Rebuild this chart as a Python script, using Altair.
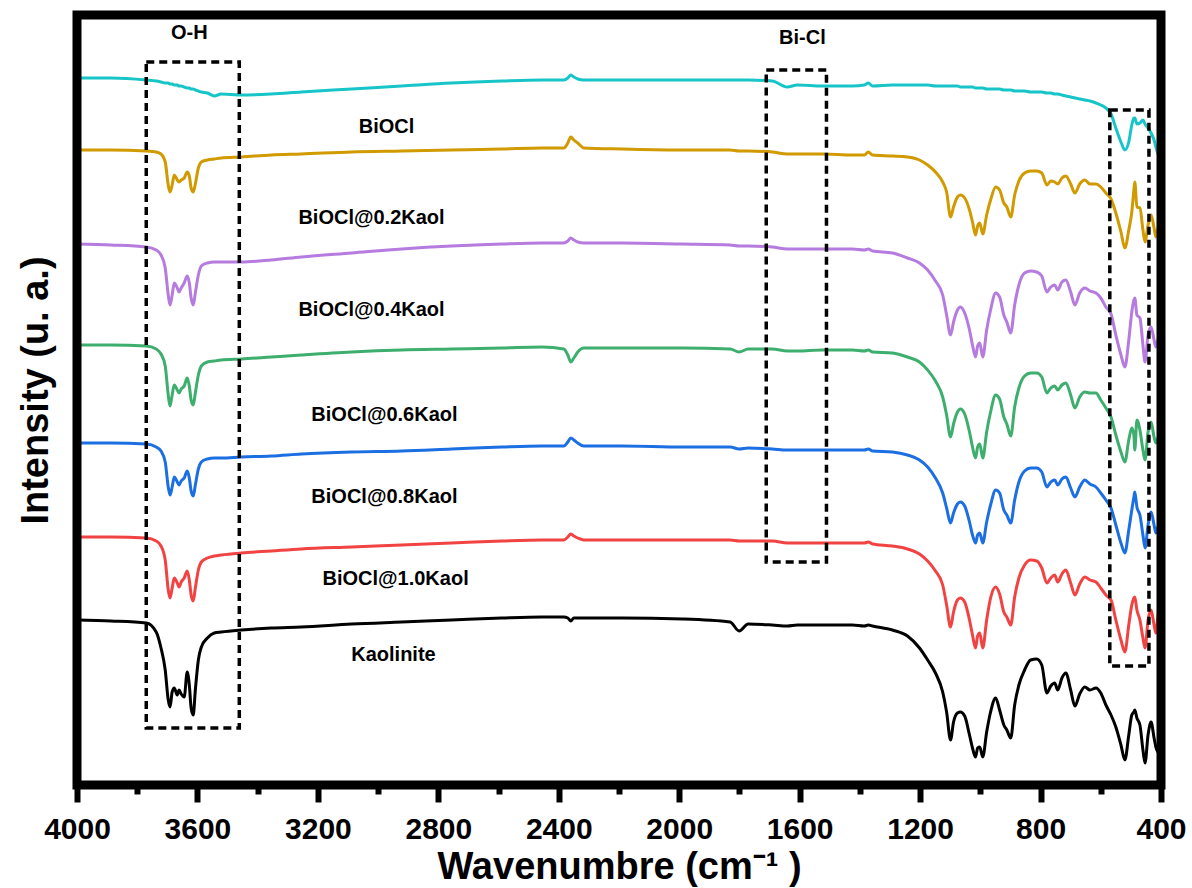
import altair as alt
import pandas as pd

# Wavenumber grid (cm^-1) shared by all spectra
WAVENUMBER = [
    4000, 3887, 3770, 3737, 3721, 3707, 3697, 3691, 3684, 3677,
    3667, 3661, 3654, 3644, 3634, 3627, 3621, 3614, 3607, 3597,
    3587, 3567, 3544, 3521, 3454, 3355, 3255, 3088, 2922, 2756,
    2589, 2456, 2383, 2370, 2360, 2350, 2337, 2317, 2190, 1990,
    1831, 1801, 1771, 1691, 1641, 1608, 1525, 1425, 1385, 1372,
    1358, 1292, 1242, 1202, 1175, 1149, 1125, 1112, 1099, 1089,
    1076, 1066, 1052, 1036, 1026, 1016, 1009, 1002, 992, 979,
    966, 949, 936, 922, 912, 899, 886, 872, 853, 833,
    813, 796, 779, 766, 753, 743, 729, 716, 700, 686,
    670, 653, 636, 616, 600, 583, 566, 550, 533, 520,
    507, 497, 490, 487, 480, 470, 460, 453, 443, 433,
    423, 417, 410, 403, 400,
]

# Stacked intensities (a.u., vertically offset spectra)
BIOCL = [
    722, 722, 720, 719, 718, 717, 717, 716, 716, 715,
    715, 714, 714, 713, 712, 712, 711, 711, 710, 709,
    708, 707, 704, 706, 705, 706, 708, 711, 714, 717,
    719, 720, 720, 722, 725, 723, 721, 720, 720, 720,
    720, 720, 720, 719, 713, 715, 714, 714, 715, 717,
    714, 715, 715, 715, 715, 714, 714, 714, 714, 714,
    714, 713, 713, 713, 713, 712, 712, 712, 712, 711,
    711, 711, 711, 710, 710, 710, 709, 709, 709, 708,
    708, 708, 707, 707, 706, 706, 705, 704, 703, 702,
    701, 700, 699, 697, 695, 692, 686, 672, 658, 650,
    658, 675, 682, 682, 676, 677, 680, 676, 672, 667,
    660, 653, 646, 640, 636,
]
KAOL_02 = [
    650, 650, 649, 648, 646, 638, 615, 608, 615, 625,
    620, 618, 620, 622, 628, 624, 612, 608, 616, 632,
    638, 640, 641, 642, 643, 645, 646, 648, 649, 650,
    651, 652, 652, 657, 663, 660, 657, 652, 651, 650,
    650, 649, 649, 648, 646, 646, 646, 645, 645, 648,
    645, 644, 643, 640, 635, 628, 618, 608, 583, 593,
    603, 605, 602, 590, 578, 565, 574, 577, 566, 585,
    600, 613, 610, 597, 593, 583, 605, 619, 627, 629,
    629, 627, 615, 619, 618, 616, 622, 624, 616, 607,
    616, 620, 616, 616, 613, 607, 601, 587, 568, 552,
    570, 588, 610, 618, 593, 592, 570, 558, 575, 585,
    572, 563, 572, 580, 576,
]
KAOL_04 = [
    556, 555, 553, 550, 545, 532, 505, 495, 505, 517,
    512, 508, 512, 517, 524, 517, 502, 495, 507, 525,
    534, 537, 538, 538, 538, 540, 543, 547, 551, 554,
    556, 557, 557, 559, 562, 560, 558, 557, 557, 556,
    555, 554, 554, 553, 551, 551, 551, 551, 550, 551,
    549, 547, 542, 537, 530, 519, 505, 485, 465, 478,
    490, 493, 487, 470, 455, 443, 454, 457, 443, 470,
    490, 507, 503, 485, 478, 467, 495, 515, 527, 529,
    528, 524, 508, 513, 515, 510, 518, 520, 508, 495,
    507, 512, 509, 507, 502, 493, 486, 465, 445, 433,
    460, 488, 500, 502, 485, 482, 455, 438, 465, 473,
    460, 453, 460, 463, 460,
]
KAOL_06 = [
    455, 455, 454, 451, 446, 434, 405, 394, 405, 415,
    410, 407, 411, 414, 422, 414, 400, 395, 407, 425,
    434, 438, 439, 440, 441, 443, 445, 448, 450, 451,
    452, 453, 451, 445, 438, 442, 448, 452, 452, 452,
    451, 448, 451, 451, 449, 449, 450, 450, 449, 450,
    448, 447, 443, 438, 430, 419, 403, 385, 363, 376,
    388, 391, 386, 368, 353, 342, 353, 356, 342, 368,
    388, 405, 401, 383, 376, 364, 393, 412, 424, 427,
    427, 423, 407, 412, 414, 410, 415, 417, 405, 392,
    403, 408, 407, 407, 400, 392, 383, 365, 348, 338,
    360, 372, 365, 350, 380, 370, 350, 340, 368, 378,
    363, 357, 362, 367, 428,
]
KAOL_08 = [
    357, 357, 356, 353, 349, 338, 313, 305, 313, 323,
    318, 315, 319, 322, 329, 322, 309, 304, 315, 331,
    338, 341, 342, 342, 343, 344, 346, 348, 349, 351,
    353, 354, 354, 358, 362, 360, 357, 354, 354, 353,
    353, 351, 352, 351, 350, 350, 350, 350, 350, 351,
    349, 348, 345, 340, 333, 322, 307, 292, 277, 287,
    296, 298, 294, 278, 265, 257, 265, 267, 257, 278,
    295, 310, 307, 290, 285, 277, 300, 318, 329, 332,
    332, 328, 313, 318, 320, 315, 321, 323, 312, 303,
    313, 320, 316, 313, 307, 300, 292, 275, 257, 247,
    270, 290, 303, 308, 293, 285, 265, 252, 275, 288,
    275, 267, 273, 277, 275,
]
KAOL_10 = [
    263, 263, 262, 259, 254, 240, 210, 202, 212, 222,
    217, 213, 218, 222, 229, 220, 205, 199, 212, 230,
    238, 242, 244, 245, 247, 249, 251, 253, 255, 257,
    259, 260, 260, 263, 266, 264, 262, 260, 260, 260,
    260, 259, 259, 259, 257, 257, 257, 257, 257, 258,
    256, 254, 251, 246, 239, 229, 215, 195, 173, 188,
    200, 202, 198, 180, 165, 152, 164, 167, 152, 180,
    202, 213, 206, 188, 183, 175, 203, 222, 235, 240,
    239, 232, 217, 222, 225, 218, 226, 230, 217, 205,
    216, 223, 220, 218, 212, 205, 200, 180, 160, 148,
    175, 195, 202, 203, 190, 180, 162, 152, 180, 190,
    175, 167, 185, 202, 205,
]
KAOLINITE = [
    180, 179, 177, 168, 152, 130, 100, 93, 108, 112,
    105, 110, 106, 103, 128, 115, 92, 85, 110, 140,
    153, 162, 167, 168, 170, 172, 173, 176, 178, 180,
    182, 183, 183, 182, 179, 182, 182, 182, 182, 181,
    178, 169, 176, 175, 174, 175, 175, 175, 174, 175,
    174, 170, 164, 152, 140, 127, 108, 88, 60, 78,
    87, 88, 84, 65, 52, 43, 52, 53, 43, 68,
    88, 102, 90, 75, 70, 62, 95, 115, 130, 140,
    141, 135, 107, 114, 117, 110, 122, 127, 110, 94,
    106, 113, 110, 112, 107, 95, 85, 73, 55, 40,
    65, 85, 88, 90, 82, 75, 50, 37, 65, 78,
    62, 53, 48, 63, 47,
]

SAMPLES = ["BiOCl", "BiOCl@0.2Kaol", "BiOCl@0.4Kaol", "BiOCl@0.6Kaol",
           "BiOCl@0.8Kaol", "BiOCl@1.0Kaol", "Kaolinite"]
SERIES = [BIOCL, KAOL_02, KAOL_04, KAOL_06, KAOL_08, KAOL_10, KAOLINITE]
COLORS = ["#17C5C9", "#D09A00", "#B57BDF", "#3DAE6E", "#1C6FE3", "#F24343", "#000000"]

# Sample labels placed under each spectrum
LABEL_TEXT = SAMPLES + ["O-H", "Bi-Cl"]
LABEL_W = [2972, 3022, 3022, 2979, 2979, 2942, 2949, 3627, 1591]
LABEL_I = [673, 582, 490, 385, 303, 221, 145, 767, 762]

# Dashed boxes marking O-H, Bi-Cl and low-wavenumber bands
BOX_W_START = [3770, 1711, 570]
BOX_W_END = [3461, 1511, 440]
BOX_TOP = [738, 730, 690]
BOX_BOTTOM = [72, 238, 134]

TICKS = list(range(4000, 399, -200))

PLOT_W = 1084
PLOT_H = 770

spectra = pd.concat(
    [pd.DataFrame({"wavenumber": WAVENUMBER, "intensity": vals, "sample": name})
     for name, vals in zip(SAMPLES, SERIES)],
    ignore_index=True,
)
labels = pd.DataFrame({"text": LABEL_TEXT, "wavenumber": LABEL_W, "intensity": LABEL_I})
boxes = pd.DataFrame({"w1": BOX_W_START, "w2": BOX_W_END, "top": BOX_TOP, "bottom": BOX_BOTTOM})

FONT = "Liberation Sans"
x_scale = alt.Scale(domain=[4000, 400], nice=False, zero=False)
y_scale = alt.Scale(domain=[15, 785], nice=False, zero=False)

x_axis = alt.Axis(
    values=TICKS,
    format="d",
    labelExpr="datum.value % 400 === 0 ? datum.label : ''",
    labelFlush=False,
    labelOverlap=False,
    labelFontSize=30,
    labelFontWeight="bold",
    labelFont=FONT,
    labelColor="black",
    labelPadding=12,
    tickSize={"condition": {"test": "datum.value % 400 === 0", "value": 17}, "value": 9},
    tickWidth=6,
    tickColor="black",
    domain=False,
    grid=False,
    title="Wavenumbre (cm⁻¹ )",
    titleFontSize=38,
    titleFont=FONT,
    titleFontWeight="bold",
    titleColor="black",
    titleBaseline="alphabetic",
    titleY=93,
)
y_axis = alt.Axis(
    ticks=False,
    labels=False,
    domain=False,
    grid=False,
    title="Intensity (u. a.)",
    titleFontSize=38,
    titleFont=FONT,
    titleFontWeight="bold",
    titleColor="black",
    titleAngle=270,
    titleBaseline="alphabetic",
    titleAlign="center",
    titleX=-30,
    titleY=375,
)

lines = alt.Chart(spectra).mark_line(strokeWidth=3, interpolate="monotone").encode(
    x=alt.X("wavenumber:Q", scale=x_scale, axis=x_axis),
    y=alt.Y("intensity:Q", scale=y_scale, axis=y_axis),
    color=alt.Color("sample:N", scale=alt.Scale(domain=SAMPLES, range=COLORS), legend=None),
    detail="sample:N",
)

box_marks = alt.Chart(boxes).mark_rect(
    filled=False, stroke="black", strokeWidth=3.5, strokeDash=[8, 5]
).encode(
    x=alt.X("w1:Q", scale=x_scale),
    x2="w2:Q",
    y=alt.Y("top:Q", scale=y_scale),
    y2="bottom:Q",
)

text_marks = alt.Chart(labels).mark_text(
    font=FONT, fontSize=20, fontWeight="bold", color="black", baseline="middle", align="center"
).encode(
    x=alt.X("wavenumber:Q", scale=x_scale),
    y=alt.Y("intensity:Q", scale=y_scale),
    text="text:N",
)

# Heavy plot frame drawn on top of the spectra
frame = alt.Chart(pd.DataFrame({"frame": [0]})).mark_rect(
    filled=False, stroke="black", strokeWidth=9
).encode(
    x=alt.value(0), x2=alt.value(PLOT_W), y=alt.value(0), y2=alt.value(PLOT_H)
)

chart = (
    alt.layer(lines, box_marks, text_marks, frame)
    .properties(
        width=PLOT_W,
        height=PLOT_H,
        autosize="none",
        padding={"left": 77, "top": 15, "right": 31, "bottom": 103},
        background="white",
    )
    .configure_view(strokeWidth=0)
)

chart.save("out.html", embed_options={"renderer": "svg", "actions": False})
